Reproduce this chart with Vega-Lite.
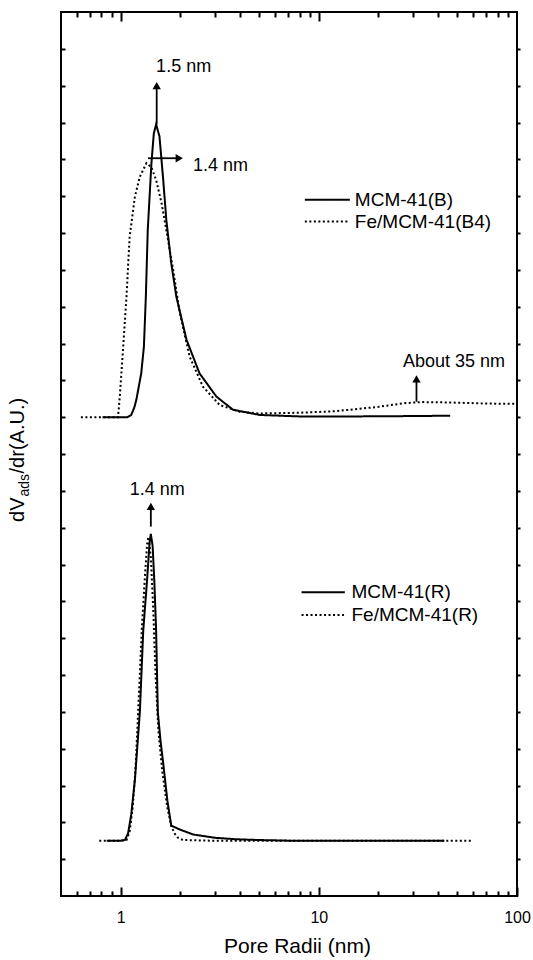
{
  "$schema": "https://vega.github.io/schema/vega-lite/v6.json",
  "width": 456,
  "height": 884,
  "autosize": {"type": "none"},
  "padding": {"left": 61, "top": 12, "right": 16, "bottom": 64},
  "background": "white",
  "config": {
    "view": {"stroke": "black", "strokeWidth": 2},
    "font": "Liberation Sans",
    "text": {"font": "Liberation Sans", "color": "black"},
    "axis": {"grid": false, "domain": false, "tickColor": "black", "tickWidth": 2, "labelColor": "black", "labelFont": "Liberation Sans", "titleFont": "Liberation Sans", "titleColor": "black", "titleFontWeight": "normal"}
  },
  "datasets": {
    "curves": [
      {"series": "MCM-41(B)", "style": "solid", "x": 0.81, "y": 13.0},
      {"series": "MCM-41(B)", "style": "solid", "x": 0.95, "y": 13.0},
      {"series": "MCM-41(B)", "style": "solid", "x": 1.08, "y": 13.0},
      {"series": "MCM-41(B)", "style": "solid", "x": 1.13, "y": 13.06},
      {"series": "MCM-41(B)", "style": "solid", "x": 1.17, "y": 13.25},
      {"series": "MCM-41(B)", "style": "solid", "x": 1.20, "y": 13.47},
      {"series": "MCM-41(B)", "style": "solid", "x": 1.27, "y": 14.19},
      {"series": "MCM-41(B)", "style": "solid", "x": 1.31, "y": 14.91},
      {"series": "MCM-41(B)", "style": "solid", "x": 1.34, "y": 16.27},
      {"series": "MCM-41(B)", "style": "solid", "x": 1.37, "y": 18.08},
      {"series": "MCM-41(B)", "style": "solid", "x": 1.43, "y": 19.9},
      {"series": "MCM-41(B)", "style": "solid", "x": 1.47, "y": 20.7},
      {"series": "MCM-41(B)", "style": "solid", "x": 1.51, "y": 20.95},
      {"series": "MCM-41(B)", "style": "solid", "x": 1.57, "y": 20.62},
      {"series": "MCM-41(B)", "style": "solid", "x": 1.64, "y": 19.44},
      {"series": "MCM-41(B)", "style": "solid", "x": 1.70, "y": 18.35},
      {"series": "MCM-41(B)", "style": "solid", "x": 1.80, "y": 17.18},
      {"series": "MCM-41(B)", "style": "solid", "x": 1.91, "y": 16.27},
      {"series": "MCM-41(B)", "style": "solid", "x": 2.15, "y": 15.1},
      {"series": "MCM-41(B)", "style": "solid", "x": 2.50, "y": 14.19},
      {"series": "MCM-41(B)", "style": "solid", "x": 3.04, "y": 13.56},
      {"series": "MCM-41(B)", "style": "solid", "x": 3.69, "y": 13.2},
      {"series": "MCM-41(B)", "style": "solid", "x": 5.03, "y": 13.06},
      {"series": "MCM-41(B)", "style": "solid", "x": 8.0, "y": 13.02},
      {"series": "MCM-41(B)", "style": "solid", "x": 15.0, "y": 13.02},
      {"series": "MCM-41(B)", "style": "solid", "x": 30.0, "y": 13.03},
      {"series": "MCM-41(B)", "style": "solid", "x": 46.0, "y": 13.04},
      {"series": "Fe/MCM-41(B4)", "style": "dotted", "x": 0.63, "y": 13.0},
      {"series": "Fe/MCM-41(B4)", "style": "dotted", "x": 0.80, "y": 13.0},
      {"series": "Fe/MCM-41(B4)", "style": "dotted", "x": 0.97, "y": 13.0},
      {"series": "Fe/MCM-41(B4)", "style": "dotted", "x": 0.99, "y": 13.56},
      {"series": "Fe/MCM-41(B4)", "style": "dotted", "x": 1.03, "y": 14.91},
      {"series": "Fe/MCM-41(B4)", "style": "dotted", "x": 1.07, "y": 16.27},
      {"series": "Fe/MCM-41(B4)", "style": "dotted", "x": 1.11, "y": 17.9},
      {"series": "Fe/MCM-41(B4)", "style": "dotted", "x": 1.18, "y": 18.99},
      {"series": "Fe/MCM-41(B4)", "style": "dotted", "x": 1.25, "y": 19.53},
      {"series": "Fe/MCM-41(B4)", "style": "dotted", "x": 1.35, "y": 19.9},
      {"series": "Fe/MCM-41(B4)", "style": "dotted", "x": 1.43, "y": 19.78},
      {"series": "Fe/MCM-41(B4)", "style": "dotted", "x": 1.51, "y": 19.44},
      {"series": "Fe/MCM-41(B4)", "style": "dotted", "x": 1.61, "y": 18.8},
      {"series": "Fe/MCM-41(B4)", "style": "dotted", "x": 1.70, "y": 18.08},
      {"series": "Fe/MCM-41(B4)", "style": "dotted", "x": 1.84, "y": 17.0},
      {"series": "Fe/MCM-41(B4)", "style": "dotted", "x": 1.99, "y": 15.82},
      {"series": "Fe/MCM-41(B4)", "style": "dotted", "x": 2.23, "y": 14.64},
      {"series": "Fe/MCM-41(B4)", "style": "dotted", "x": 2.60, "y": 13.83},
      {"series": "Fe/MCM-41(B4)", "style": "dotted", "x": 3.16, "y": 13.33},
      {"series": "Fe/MCM-41(B4)", "style": "dotted", "x": 3.99, "y": 13.15},
      {"series": "Fe/MCM-41(B4)", "style": "dotted", "x": 5.0, "y": 13.1},
      {"series": "Fe/MCM-41(B4)", "style": "dotted", "x": 8.0, "y": 13.12},
      {"series": "Fe/MCM-41(B4)", "style": "dotted", "x": 12.0, "y": 13.16},
      {"series": "Fe/MCM-41(B4)", "style": "dotted", "x": 20.0, "y": 13.28},
      {"series": "Fe/MCM-41(B4)", "style": "dotted", "x": 27.0, "y": 13.38},
      {"series": "Fe/MCM-41(B4)", "style": "dotted", "x": 33.0, "y": 13.41},
      {"series": "Fe/MCM-41(B4)", "style": "dotted", "x": 45.0, "y": 13.4},
      {"series": "Fe/MCM-41(B4)", "style": "dotted", "x": 70.0, "y": 13.37},
      {"series": "Fe/MCM-41(B4)", "style": "dotted", "x": 100.0, "y": 13.36},
      {"series": "MCM-41(R)", "style": "solid", "x": 0.85, "y": 1.5},
      {"series": "MCM-41(R)", "style": "solid", "x": 1.0, "y": 1.5},
      {"series": "MCM-41(R)", "style": "solid", "x": 1.05, "y": 1.52},
      {"series": "MCM-41(R)", "style": "solid", "x": 1.09, "y": 1.7},
      {"series": "MCM-41(R)", "style": "solid", "x": 1.13, "y": 2.2},
      {"series": "MCM-41(R)", "style": "solid", "x": 1.18, "y": 3.15},
      {"series": "MCM-41(R)", "style": "solid", "x": 1.25, "y": 5.0},
      {"series": "MCM-41(R)", "style": "solid", "x": 1.30, "y": 7.2},
      {"series": "MCM-41(R)", "style": "solid", "x": 1.36, "y": 8.6},
      {"series": "MCM-41(R)", "style": "solid", "x": 1.40, "y": 9.6},
      {"series": "MCM-41(R)", "style": "solid", "x": 1.42, "y": 9.83},
      {"series": "MCM-41(R)", "style": "solid", "x": 1.45, "y": 9.5},
      {"series": "MCM-41(R)", "style": "solid", "x": 1.48, "y": 8.5},
      {"series": "MCM-41(R)", "style": "solid", "x": 1.51, "y": 7.2},
      {"series": "MCM-41(R)", "style": "solid", "x": 1.54, "y": 5.0},
      {"series": "MCM-41(R)", "style": "solid", "x": 1.59, "y": 4.2},
      {"series": "MCM-41(R)", "style": "solid", "x": 1.64, "y": 3.6},
      {"series": "MCM-41(R)", "style": "solid", "x": 1.72, "y": 2.6},
      {"series": "MCM-41(R)", "style": "solid", "x": 1.80, "y": 1.91},
      {"series": "MCM-41(R)", "style": "solid", "x": 2.0, "y": 1.8},
      {"series": "MCM-41(R)", "style": "solid", "x": 2.32, "y": 1.67},
      {"series": "MCM-41(R)", "style": "solid", "x": 3.0, "y": 1.58},
      {"series": "MCM-41(R)", "style": "solid", "x": 3.84, "y": 1.54},
      {"series": "MCM-41(R)", "style": "solid", "x": 5.0, "y": 1.52},
      {"series": "MCM-41(R)", "style": "solid", "x": 7.4, "y": 1.5},
      {"series": "MCM-41(R)", "style": "solid", "x": 20.0, "y": 1.5},
      {"series": "MCM-41(R)", "style": "solid", "x": 43.0, "y": 1.5},
      {"series": "Fe/MCM-41(R)", "style": "dotted", "x": 0.78, "y": 1.5},
      {"series": "Fe/MCM-41(R)", "style": "dotted", "x": 1.0, "y": 1.5},
      {"series": "Fe/MCM-41(R)", "style": "dotted", "x": 1.07, "y": 1.52},
      {"series": "Fe/MCM-41(R)", "style": "dotted", "x": 1.11, "y": 1.75},
      {"series": "Fe/MCM-41(R)", "style": "dotted", "x": 1.15, "y": 2.4},
      {"series": "Fe/MCM-41(R)", "style": "dotted", "x": 1.19, "y": 3.5},
      {"series": "Fe/MCM-41(R)", "style": "dotted", "x": 1.23, "y": 5.2},
      {"series": "Fe/MCM-41(R)", "style": "dotted", "x": 1.28, "y": 7.3},
      {"series": "Fe/MCM-41(R)", "style": "dotted", "x": 1.33, "y": 8.8},
      {"series": "Fe/MCM-41(R)", "style": "dotted", "x": 1.36, "y": 9.55},
      {"series": "Fe/MCM-41(R)", "style": "dotted", "x": 1.38, "y": 9.75},
      {"series": "Fe/MCM-41(R)", "style": "dotted", "x": 1.42, "y": 9.2},
      {"series": "Fe/MCM-41(R)", "style": "dotted", "x": 1.46, "y": 7.8},
      {"series": "Fe/MCM-41(R)", "style": "dotted", "x": 1.50, "y": 6.0},
      {"series": "Fe/MCM-41(R)", "style": "dotted", "x": 1.55, "y": 4.5},
      {"series": "Fe/MCM-41(R)", "style": "dotted", "x": 1.62, "y": 3.4},
      {"series": "Fe/MCM-41(R)", "style": "dotted", "x": 1.72, "y": 2.4},
      {"series": "Fe/MCM-41(R)", "style": "dotted", "x": 1.80, "y": 1.9},
      {"series": "Fe/MCM-41(R)", "style": "dotted", "x": 1.87, "y": 1.7},
      {"series": "Fe/MCM-41(R)", "style": "dotted", "x": 1.95, "y": 1.58},
      {"series": "Fe/MCM-41(R)", "style": "dotted", "x": 2.06, "y": 1.52},
      {"series": "Fe/MCM-41(R)", "style": "dotted", "x": 3.0, "y": 1.5},
      {"series": "Fe/MCM-41(R)", "style": "dotted", "x": 10.0, "y": 1.5},
      {"series": "Fe/MCM-41(R)", "style": "dotted", "x": 59.0, "y": 1.5}
    ],
    "shafts": [
      {"x": 1.52, "y": 20.95, "x2": 1.52, "y2": 21.95},
      {"x": 1.374, "y": 20.03, "x2": 1.96, "y2": 20.03},
      {"x": 1.42, "y": 10.03, "x2": 1.42, "y2": 10.55},
      {"x": 31.1, "y": 13.42, "x2": 31.1, "y2": 14.0}
    ],
    "heads": [
      {"x": 1.52, "y": 22.0, "dir": "up"},
      {"x": 1.975, "y": 20.03, "dir": "right"},
      {"x": 1.42, "y": 10.58, "dir": "up"},
      {"x": 31.1, "y": 14.04, "dir": "up"}
    ],
    "notes": [
      {"text": "1.5 nm", "x": 1.51, "y": 22.51},
      {"text": "1.4 nm", "x": 2.318, "y": 19.82},
      {"text": "1.4 nm", "x": 1.11, "y": 11.02},
      {"text": "About 35 nm", "x": 26.6, "y": 14.51}
    ],
    "legend": [
      {"label": "MCM-41(B)", "style": "solid", "x": 8.5, "x2": 14.34, "y": 18.9, "tx": 15.2},
      {"label": "Fe/MCM-41(B4)", "style": "dotted", "x": 8.5, "x2": 14.34, "y": 18.31, "tx": 15.2},
      {"label": "MCM-41(R)", "style": "solid", "x": 8.18, "x2": 13.53, "y": 8.25, "tx": 14.62},
      {"label": "Fe/MCM-41(R)", "style": "dotted", "x": 8.18, "x2": 13.53, "y": 7.63, "tx": 14.62}
    ],
    "ytitle": [
      {"x": 0.3236, "y": 10.82}
    ]
  },
  "layer": [
    {
      "data": {"name": "curves"},
      "mark": {"type": "line", "color": "black", "strokeWidth": 2},
      "encoding": {
        "x": {"field": "x", "type": "quantitative",
          "scale": {"type": "log", "domain": [0.5, 100], "nice": false},
          "axis": {"orient": "bottom", "values": [1, 10, 100], "format": "~g",
            "tickSize": 9, "offset": -9,
            "labelFontSize": 16, "labelPadding": 13, "labelFlush": false, "labelOverlap": false, "labelBound": false,
            "title": "Pore Radii (nm)", "titleFontSize": 21, "titlePadding": 10, "titleX": 236}},
        "y": {"field": "y", "type": "quantitative",
          "scale": {"domain": [0, 24], "nice": false, "zero": false},
          "axis": {"orient": "left", "values": [1,2,3,4,5,6,7,8,9,10,11,12,13,14,15,16,17,18,19,20,21,22,23], "labels": false, "tickSize": 4, "offset": -4, "title": null}},
        "detail": {"field": "series"},
        "strokeDash": {"field": "style", "type": "nominal", "scale": {"domain": ["solid", "dotted"], "range": [[1, 0], [2, 2.5]]}, "legend": null}
      }
    },
    {
      "data": {"name": "shafts"},
      "mark": {"type": "rule", "color": "black", "strokeWidth": 1.8},
      "encoding": {
        "x": {"field": "x", "type": "quantitative",
          "scale": {"type": "log", "domain": [0.5, 100], "nice": false},
          "axis": {"orient": "top", "values": [1, 10], "labels": false, "title": null, "tickSize": 9, "offset": -9}},
        "x2": {"field": "x2"},
        "y": {"field": "y", "type": "quantitative",
          "scale": {"domain": [0, 24], "nice": false, "zero": false},
          "axis": {"orient": "right", "values": [1,2,3,4,5,6,7,8,9,10,11,12,13,14,15,16,17,18,19,20,21,22,23], "labels": false, "tickSize": 3, "title": null}},
        "y2": {"field": "y2"}
      }
    },
    {
      "data": {"name": "heads"},
      "mark": {"type": "point", "filled": true, "color": "black", "opacity": 1, "size": 70},
      "encoding": {
        "x": {"field": "x", "type": "quantitative", "scale": {"type": "log", "domain": [0.5, 100], "nice": false},
          "axis": {"orient": "bottom", "values": [0.6, 0.7, 0.8, 0.9, 2, 3, 4, 5, 6, 7, 8, 9, 20, 30, 40, 50, 60, 70, 80, 90], "labels": false, "title": null, "tickSize": 5, "offset": -5}},
        "y": {"field": "y", "type": "quantitative", "scale": {"domain": [0, 24], "nice": false, "zero": false}, "axis": null},
        "shape": {"field": "dir", "type": "nominal", "scale": {"domain": ["up", "right"], "range": ["triangle-up", "triangle-right"]}, "legend": null}
      }
    },
    {
      "data": {"name": "notes"},
      "mark": {"type": "text", "align": "left", "baseline": "middle", "fontSize": 18, "color": "black"},
      "encoding": {
        "x": {"field": "x", "type": "quantitative", "scale": {"type": "log", "domain": [0.5, 100], "nice": false},
          "axis": {"orient": "top", "values": [0.6, 0.7, 0.8, 0.9, 2, 3, 4, 5, 6, 7, 8, 9, 20, 30, 40, 50, 60, 70, 80, 90], "labels": false, "title": null, "tickSize": 5, "offset": -5}},
        "y": {"field": "y", "type": "quantitative", "scale": {"domain": [0, 24], "nice": false, "zero": false}, "axis": null},
        "text": {"field": "text"}
      }
    },
    {
      "data": {"name": "legend"},
      "mark": {"type": "rule", "color": "black", "strokeWidth": 2},
      "encoding": {
        "x": {"field": "x", "type": "quantitative", "scale": {"type": "log", "domain": [0.5, 100], "nice": false}, "axis": null},
        "x2": {"field": "x2"},
        "y": {"field": "y", "type": "quantitative", "scale": {"domain": [0, 24], "nice": false, "zero": false}, "axis": null},
        "strokeDash": {"field": "style", "type": "nominal", "scale": {"domain": ["solid", "dotted"], "range": [[1, 0], [2, 2.5]]}, "legend": null}
      }
    },
    {
      "data": {"name": "legend"},
      "mark": {"type": "text", "align": "left", "baseline": "middle", "fontSize": 19, "color": "black"},
      "encoding": {
        "x": {"field": "tx", "type": "quantitative", "scale": {"type": "log", "domain": [0.5, 100], "nice": false}, "axis": null},
        "y": {"field": "y", "type": "quantitative", "scale": {"domain": [0, 24], "nice": false, "zero": false}, "axis": null},
        "text": {"field": "label"}
      }
    },
    {
      "data": {"name": "ytitle"},
      "mark": {"type": "text", "align": "right", "baseline": "alphabetic", "angle": 270, "fontSize": 20, "color": "black"},
      "encoding": {
        "x": {"field": "x", "type": "quantitative", "scale": {"type": "log", "domain": [0.5, 100], "nice": false}, "axis": null},
        "y": {"field": "y", "type": "quantitative", "scale": {"domain": [0, 24], "nice": false, "zero": false}, "axis": null},
        "text": {"value": "dV"}
      }
    },
    {
      "data": {"name": "ytitle"},
      "mark": {"type": "text", "align": "left", "baseline": "alphabetic", "angle": 270, "fontSize": 14, "dx": 1, "dy": 5, "color": "black"},
      "encoding": {
        "x": {"field": "x", "type": "quantitative", "scale": {"type": "log", "domain": [0.5, 100], "nice": false}, "axis": null},
        "y": {"field": "y", "type": "quantitative", "scale": {"domain": [0, 24], "nice": false, "zero": false}, "axis": null},
        "text": {"value": "ads"}
      }
    },
    {
      "data": {"name": "ytitle"},
      "mark": {"type": "text", "align": "left", "baseline": "alphabetic", "angle": 270, "fontSize": 20, "dx": 24, "color": "black"},
      "encoding": {
        "x": {"field": "x", "type": "quantitative", "scale": {"type": "log", "domain": [0.5, 100], "nice": false}, "axis": null},
        "y": {"field": "y", "type": "quantitative", "scale": {"domain": [0, 24], "nice": false, "zero": false}, "axis": null},
        "text": {"value": "/dr(A.U.)"}
      }
    }
  ],
  "resolve": {"axis": {"x": "independent", "y": "independent"}}
}
